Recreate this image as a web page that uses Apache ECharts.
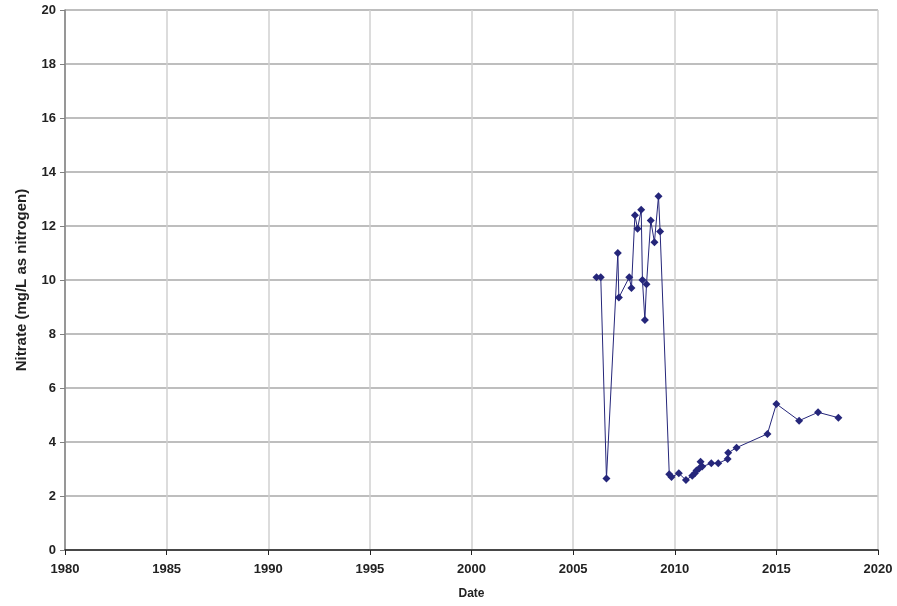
<!DOCTYPE html>
<html><head><meta charset="utf-8">
<script src="https://cdn.jsdelivr.net/npm/echarts@6/dist/echarts.min.js"></script>
<style>html,body{margin:0;padding:0;background:#fff}#c{width:897px;height:606px}</style>
</head><body><div id="c"></div>
<script>
// Decimal-year dates and nitrate values (mg/L as N)
const dates = [2006.15,2006.36,2006.64,2007.2,2007.25,2007.76,2007.87,2008.04,2008.17,2008.35,2008.41,2008.53,2008.61,2008.82,2009.0,2009.2,2009.28,2009.73,2009.84,2010.2,2010.55,2010.86,2010.99,2011.07,2011.2,2011.27,2011.35,2011.8,2012.14,2012.6,2012.63,2013.04,2014.56,2015.0,2016.12,2017.05,2018.05];
const nitrate = [10.1,10.1,2.65,11.0,9.35,10.1,9.7,12.4,11.9,12.6,10.0,8.52,9.84,12.2,11.4,13.1,11.8,2.81,2.7,2.84,2.59,2.75,2.84,2.94,3.02,3.27,3.09,3.21,3.21,3.37,3.6,3.79,4.3,5.41,4.79,5.1,4.9];
const xTicks = [1980,2020,5];
const yTicks = [0,20,2];

const chart = echarts.init(document.getElementById('c'));
const font = 'Liberation Sans, Arial, sans-serif';
chart.setOption({
  animation:false,
  grid:{left:65,right:19,top:10,bottom:56,outerBoundsMode:'none'},
  xAxis:{type:'value',min:xTicks[0],max:xTicks[1],interval:xTicks[2],
    name:'Date',nameLocation:'middle',nameGap:38,
    nameTextStyle:{fontFamily:font,fontWeight:'bold',fontSize:12,color:'#222'},
    axisLine:{lineStyle:{color:'#222',width:1.5}},
    axisTick:{show:true,length:5,lineStyle:{color:'#222'}},
    axisLabel:{fontFamily:font,fontWeight:'bold',fontSize:13,color:'#222',margin:13,formatter:v=>String(Math.round(v))},
    splitLine:{show:true,lineStyle:{color:'#d0d0d0',width:1.5}}},
  yAxis:{type:'value',min:yTicks[0],max:yTicks[1],interval:yTicks[2],
    name:'Nitrate (mg/L as nitrogen)',nameLocation:'middle',nameGap:36,nameRotate:90,
    nameTextStyle:{fontFamily:font,fontWeight:'bold',fontSize:15,color:'#222'},
    axisLine:{show:true,lineStyle:{color:'#808080',width:1.5}},
    axisTick:{show:true,length:5,lineStyle:{color:'#808080'}},
    axisLabel:{fontFamily:font,fontWeight:'bold',fontSize:13,color:'#222',margin:9},
    splitLine:{show:true,lineStyle:{color:'#a8a8a8',width:1.5}}},
  series:[{type:'line',data:dates.map((d,i)=>[d,nitrate[i]]),
    symbol:'diamond',symbolSize:8,
    lineStyle:{color:'#25267a',width:1},
    itemStyle:{color:'#25267a'}}]
});
</script></body></html>
